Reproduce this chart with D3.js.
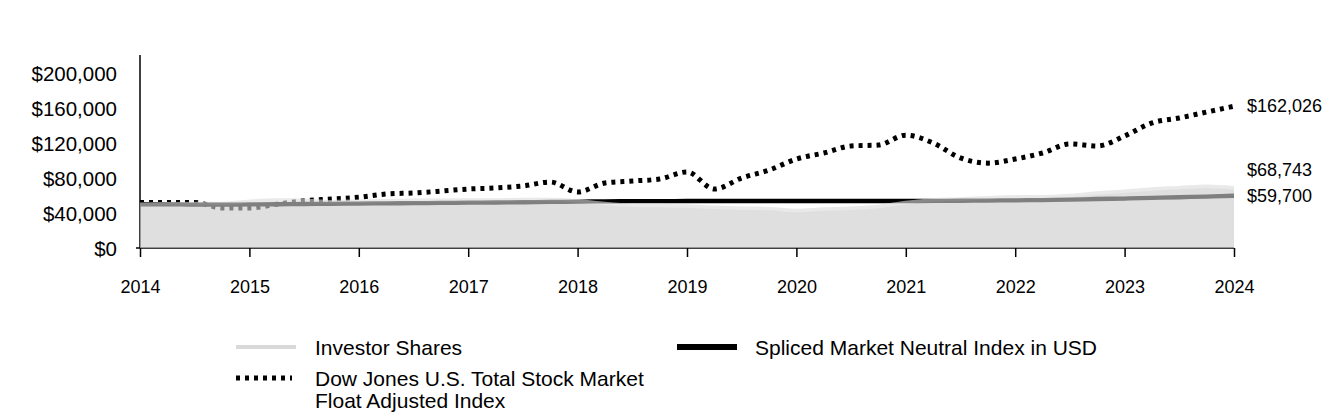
<!DOCTYPE html>
<html><head><meta charset="utf-8">
<script src="https://cdn.jsdelivr.net/npm/d3@7"></script>
<style>body{margin:0;background:#fff}svg{display:block;font-family:Arial,"Liberation Sans",sans-serif}</style>
</head><body>
<svg id="c" width="1344" height="420"></svg>
<script>
// Quarterly dates 2014.0 .. 2024.0
const quarters = d3.range(41).map(i => 2014 + i / 4);
const investorShares = [50,50.5,51,51, 53.5,55,54.5,53, 53.5,54,54.5,54.5, 55,55,55.5,55.5,
  54,51,49,48.5, 48,46.5,45.5,45, 43,44.5,45.5,47.5, 52,55,56,57.5, 58.5,58.5,60,63,
  65,67.5,69,70.5, 68.743].map(v => v * 1000);
const splicedIndex = [50,50,49.5,49.5, 49.8,50,50.3,50.5, 50.8,51,51.3,51.5, 51.8,52,52.3,52.6,
  53,53.3,53.5,53.6, 53.7,53.7,53.7,53.7, 53.7,53.7,53.7,53.7, 53.7,53.8,54,54.2,
  54.5,54.8,55.2,56, 56.5,57.2,58,58.8, 59.7].map(v => v * 1000);
const dowJones = [52,52,52,45.7, 45.7,50,54,56, 58,61.7,62.9,65, 67.4,68.6,70.9,75.4,
  64,74.3,76.6,78.9, 86.9,67.4,80,89, 101.7,108.6,116.6,117.7, 129,120,102.9,97,
  101.7,108.6,118.9,116.6, 128,142.9,148.6,155.4, 162.026].map(v => v * 1000);
const yTicks = [0,40000,80000,120000,160000,200000];
const xTicks = [2014,2015,2016,2017,2018,2019,2020,2021,2022,2023,2024];
const endLabels = ["$162,026","$68,743","$59,700"];
const legendLabels = ["Investor Shares","Spliced Market Neutral Index in USD",["Dow Jones U.S. Total Stock Market","Float Adjusted Index"]];

const svg = d3.select("#c");
const x = d3.scaleLinear().domain([2014,2024]).range([140,1234]);
const y = d3.scaleLinear().domain([0,200000]).range([248,73]);
const fmt = v => "$" + d3.format(",")(v);

// axes
svg.append("line").attr("x1",140).attr("x2",140).attr("y1",55).attr("y2",248).attr("stroke","#000").attr("stroke-width",1.5);
const xa = svg.append("g").attr("transform","translate(0,248)")
  .call(d3.axisBottom(x).tickValues(xTicks).tickFormat(d3.format("d")).tickSize(9).tickSizeOuter(0));
xa.select(".domain").attr("stroke","#000").attr("stroke-width",1.5).attr("d","M136,0H1234");
xa.selectAll(".tick line").attr("stroke","#000").attr("stroke-width",1.5);
xa.selectAll(".tick text").attr("font-size",18).attr("fill","#000").attr("font-family","Arial,'Liberation Sans',sans-serif").attr("dy",null).attr("y",39).attr("dominant-baseline","central");

const ya = svg.append("g").attr("transform","translate(117,0)")
  .call(d3.axisLeft(y).tickValues(yTicks).tickFormat(fmt).tickSize(0));
ya.select(".domain").remove();
ya.selectAll(".tick text").attr("font-size",20.5).attr("fill","#000").attr("font-family","Arial,'Liberation Sans',sans-serif").attr("x",0).attr("dy",null).attr("dominant-baseline","central");

const line = d3.line().x((d,i)=>x(quarters[i])).y(d=>y(d)).curve(d3.curveMonotoneX);
svg.append("path").attr("d",line(dowJones)).attr("fill","none").attr("stroke","#000")
  .attr("stroke-width",5).attr("stroke-dasharray","4,5");
svg.append("path").attr("d",line(splicedIndex)).attr("fill","none").attr("stroke","#000").attr("stroke-width",4.3);

const area = d3.area().x((d,i)=>x(quarters[i])).y0(y(0)).y1(d=>y(d)).curve(d3.curveMonotoneX);
const g = svg.append("g").attr("opacity",0.62);
g.append("path").attr("d",area(investorShares)).attr("fill","#cdcdcd");
g.append("path").attr("d",line(investorShares)).attr("fill","none").attr("stroke","#dcdcdc").attr("stroke-width",3.5);

// end labels (middle label lifted to avoid overlap, as in the reference)
const endVals = [dowJones[40], 89000, splicedIndex[40]];
svg.selectAll("text.end").data(endLabels).join("text").attr("class","end")
  .attr("x",1247).attr("y",(d,i)=>y(endVals[i])).attr("dominant-baseline","central")
  .attr("font-size",18).text(d=>d);

// legend
const lg = svg.append("g").attr("font-size",21);
lg.append("line").attr("x1",236).attr("x2",296).attr("y1",347).attr("y2",347).attr("stroke","#d9d9d9").attr("stroke-width",4);
lg.append("text").attr("x",315).attr("y",347).attr("dominant-baseline","central").text(legendLabels[0]);
lg.append("line").attr("x1",677).attr("x2",737).attr("y1",347).attr("y2",347).attr("stroke","#000").attr("stroke-width",6);
lg.append("text").attr("x",755).attr("y",347).attr("dominant-baseline","central").text(legendLabels[1]);
lg.append("line").attr("x1",236).attr("x2",292).attr("y1",378).attr("y2",378).attr("stroke","#000").attr("stroke-width",5).attr("stroke-dasharray","4,5");
lg.append("text").attr("x",315).attr("y",378).attr("dominant-baseline","central").text(legendLabels[2][0]);
lg.append("text").attr("x",315).attr("y",400).attr("dominant-baseline","central").text(legendLabels[2][1]);
</script>
</body></html>
